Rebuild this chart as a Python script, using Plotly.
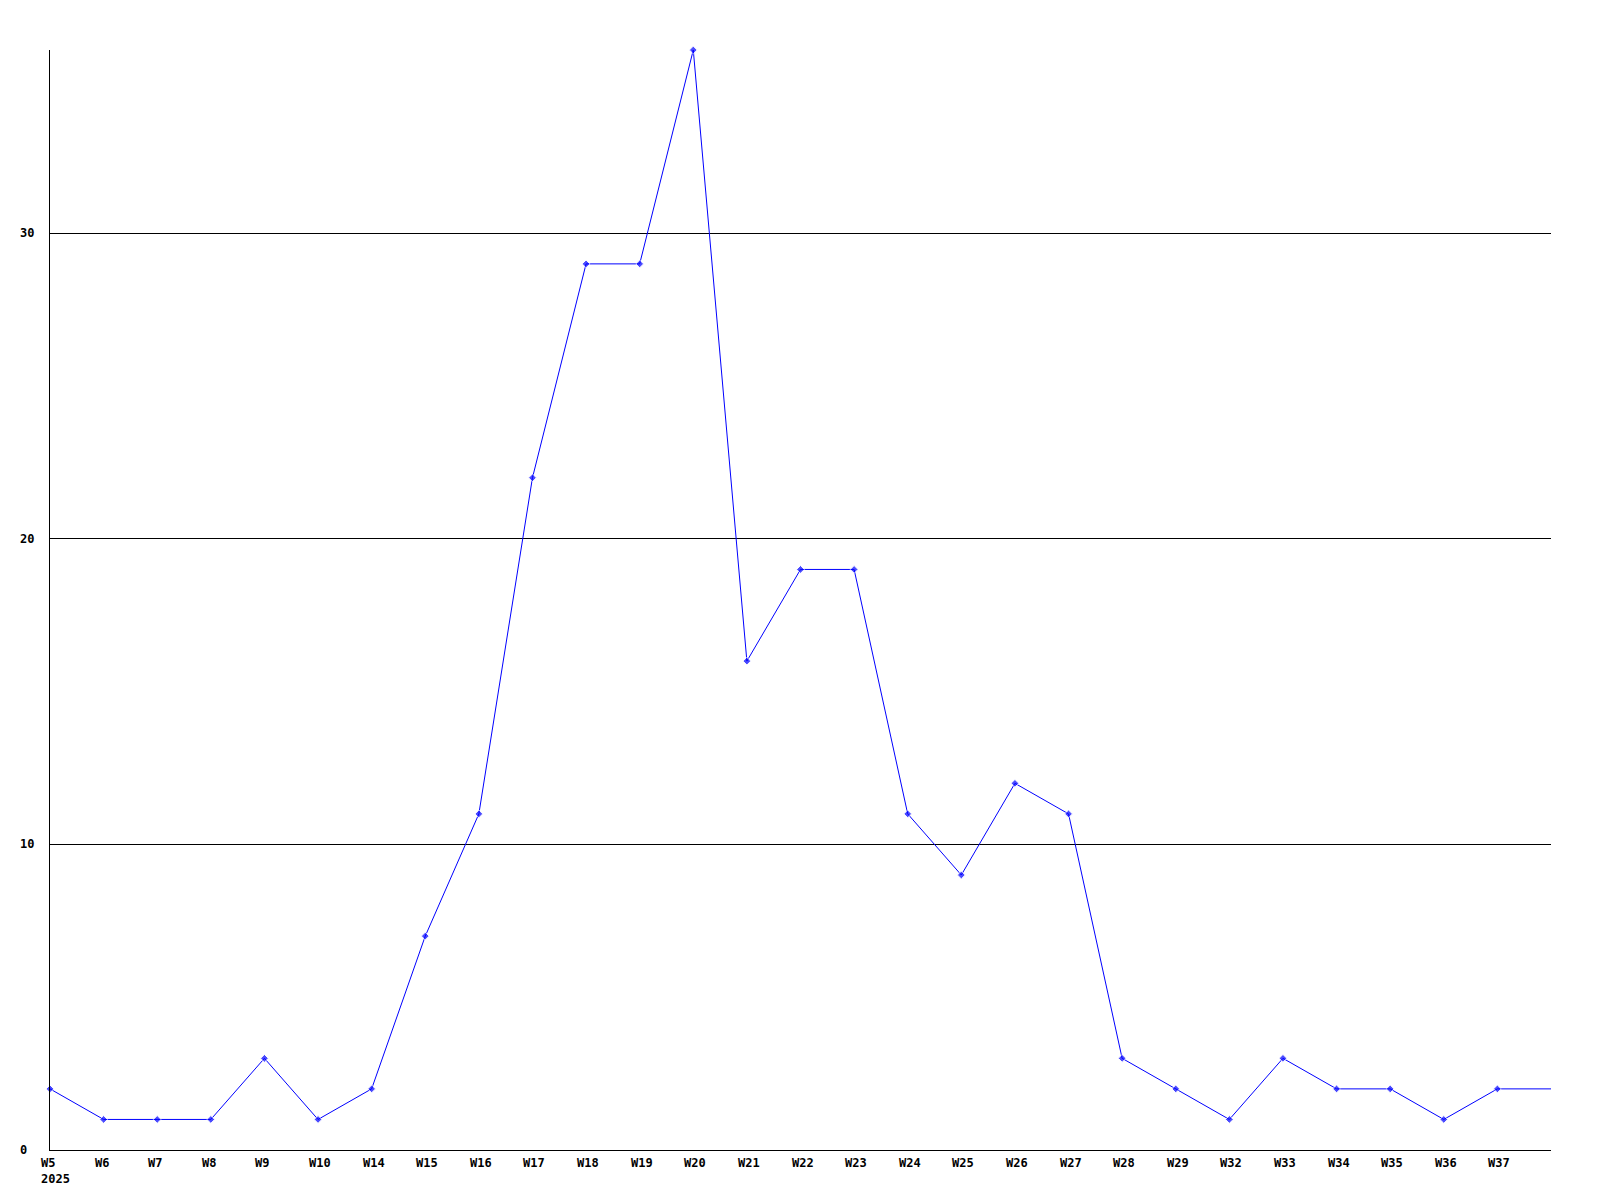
import plotly.graph_objects as go

weeks = ["W5", "W6", "W7", "W8", "W9", "W10", "W14", "W15", "W16", "W17",
         "W18", "W19", "W20", "W21", "W22", "W23", "W24", "W25", "W26", "W27",
         "W28", "W29", "W32", "W33", "W34", "W35", "W36", "W37", "W38"]
counts = [2, 1, 1, 1, 3, 1, 2, 7, 11, 22,
          29, 29, 36, 16, 19, 19, 11, 9, 12, 11,
          3, 2, 1, 3, 2, 2, 1, 2, 2]
year_label = "2025"
y_ticks = [0, 10, 20, 30]

n = len(weeks)
xs = list(range(n))
tick_text = [w for w in weeks[:-1]] + [""]
tick_text[0] = tick_text[0] + "<br>" + year_label
marker_sizes = [6] * (n - 1) + [0]

FONT = "DejaVu Sans Mono"
label_font = dict(family=FONT, size=12, color="black", weight="bold")

fig = go.Figure()
fig.add_trace(go.Scatter(
    x=xs, y=counts, mode="lines+markers",
    line=dict(color="#0000FF", width=1),
    marker=dict(symbol="diamond", size=marker_sizes, color="#0000FF"),
    cliponaxis=False,
    hoverinfo="skip",
))

for v in y_ticks:
    fig.add_annotation(
        x=-0.021, xref="paper", y=v, yref="y", text=str(v),
        xanchor="left", yanchor="middle", showarrow=False,
        font=label_font,
    )

for xi, t in zip(xs, tick_text):
    if not t:
        continue
    fig.add_annotation(
        x=xi, xref="x", y=0, yref="paper", text=t,
        xanchor="left", yanchor="top", align="left", showarrow=False,
        xshift=-11, yshift=-4, font=label_font,
    )

fig.update_layout(
    width=1600, height=1200,
    margin=dict(l=42, r=57, t=42, b=58),
    paper_bgcolor="white", plot_bgcolor="white",
    showlegend=False,
    xaxis=dict(
        range=[0, n - 1], tickmode="array", tickvals=xs,
        showticklabels=False,
        showgrid=False, zeroline=False, showline=True, linecolor="black",
        linewidth=1, ticks="",
    ),
    yaxis=dict(
        range=[0, 36], tickmode="array", tickvals=[10, 20, 30],
        showticklabels=False, showgrid=True, gridcolor="black", gridwidth=1,
        zeroline=False, showline=True, linecolor="black", linewidth=1, ticks="",
    ),
)

fig.write_html("out.html")
